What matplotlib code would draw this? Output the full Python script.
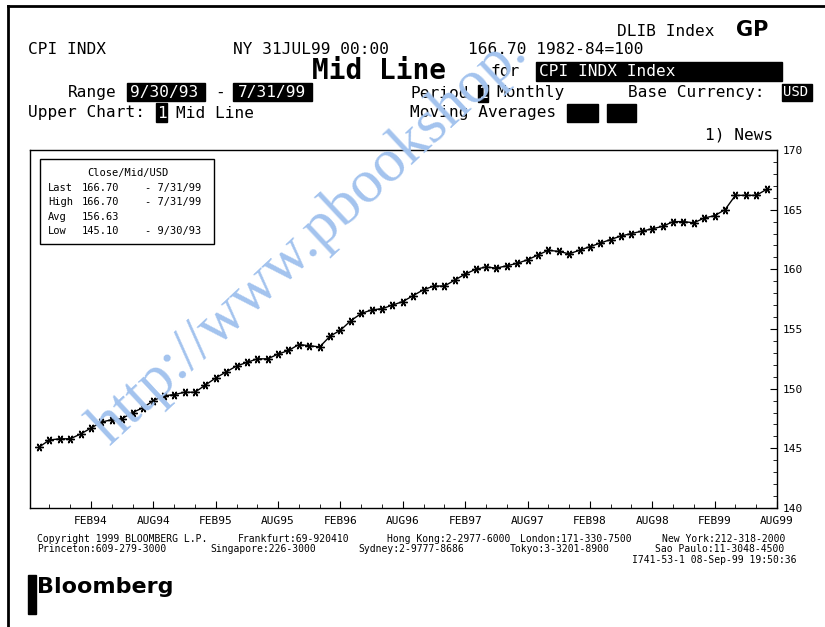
import numpy as np
import matplotlib
matplotlib.use("Agg")
import matplotlib.pyplot as plt
from matplotlib.patches import Rectangle
from matplotlib.lines import Line2D
from matplotlib.ticker import FixedLocator

# monthly CPI, Sep 93 .. Jul 99
cpi = [145.1, 145.7, 145.8, 145.8,
       146.2, 146.7, 147.2, 147.4, 147.5, 148.0, 148.4, 149.0, 149.4, 149.5, 149.7, 149.7,
       150.3, 150.9, 151.4, 151.9, 152.2, 152.5, 152.5, 152.9, 153.2, 153.7, 153.6, 153.5,
       154.4, 154.9, 155.7, 156.3, 156.6, 156.7, 157.0, 157.3, 157.8, 158.3, 158.6, 158.6,
       159.1, 159.6, 160.0, 160.2, 160.1, 160.3, 160.5, 160.8, 161.2, 161.6, 161.5, 161.3,
       161.6, 161.9, 162.2, 162.5, 162.8, 163.0, 163.2, 163.4, 163.6, 164.0, 164.0, 163.9,
       164.3, 164.5, 165.0, 166.2, 166.2, 166.2, 166.7]
x_labels = ["FEB94", "AUG94", "FEB95", "AUG95", "FEB96", "AUG96",
            "FEB97", "AUG97", "FEB98", "AUG98", "FEB99", "AUG99"]
stat_names = ["Last", "High", "Avg", "Low"]
stat_values = ["166.70", "166.70", "156.63", "145.10"]
stat_dates = ["- 7/31/99", "- 7/31/99", "", "- 9/30/93"]
y_ticks = [140, 145, 150, 155, 160, 165, 170]

W, H = 825, 627
MONO = "DejaVu Sans Mono"


def fx(x):
    return x / W


def fy(y):
    return 1 - y / H


fig = plt.figure(figsize=(W / 100, H / 100), dpi=100)


def txt(x, y, s, size=11.6, **kw):
    kw.setdefault("family", MONO)
    kw.setdefault("va", "center")
    fig.text(fx(x), fy(y), s, fontsize=size, **kw)


def box(x0, y0, x1, y1, fc="black", lw=1):
    fig.add_artist(Rectangle((fx(x0), fy(y1)), (x1 - x0) / W, (y1 - y0) / H,
                             transform=fig.transFigure, fc=fc, ec="black", lw=lw))


# page frame
fig.add_artist(Line2D([fx(8), fx(8)], [0, fy(6)], lw=2, color="black"))
fig.add_artist(Line2D([fx(8), 1], [fy(6), fy(6)], lw=2, color="black"))

# header
txt(617, 31, "DLIB Index")
txt(736, 30, "GP", size=15, family="DejaVu Sans", weight="bold")
txt(28, 50, "CPI INDX")
txt(233, 50, "NY 31JUL99 00:00")
txt(468, 50, "166.70 1982-84=100")
txt(312, 71, "Mid Line", size=20, weight="bold")
txt(490, 72, "for")
box(536, 62, 782, 81)
txt(539, 72, "CPI INDX Index", color="white")
txt(68, 92, "Range")
box(127, 83, 205, 101)
txt(130, 92, "9/30/93", color="white")
txt(215, 92, "-")
box(233, 83, 312, 101)
txt(238, 92, "7/31/99", color="white")
txt(410, 93, "Period")
box(478, 85, 488, 102)
txt(478, 93, "1", color="white")
txt(496, 93, "Monthly")
txt(628, 93, "Base Currency:")
box(782, 84, 812, 101)
txt(783, 92, "USD", color="white", size=10)
txt(28, 113, "Upper Chart:")
box(156, 103, 167, 122)
txt(157, 113, "1", color="white")
txt(176, 113, "Mid Line")
txt(410, 113, "Moving Averages")
box(567, 104, 598, 122)
box(607, 104, 636, 122)
txt(705, 135, "1) News")

# chart
ax = fig.add_axes([fx(30), fy(508), (777 - 30) / W, (508 - 150) / H])
months = np.arange(len(cpi))
ax.plot(months, cpi, color="black", lw=1, marker=(6, 2, 90), ms=6, mew=1)
ax.set_xlim(-0.87, 70.96)
ax.set_ylim(140, 170)
ax.yaxis.tick_right()
ax.set_yticks(y_ticks)
ax.set_yticklabels([str(v) for v in y_ticks], family=MONO, fontsize=8)
ax.yaxis.set_minor_locator(FixedLocator(np.arange(140, 171, 1)))
major_x = np.arange(5, 72, 6)
ax.set_xticks(major_x)
ax.set_xticklabels(x_labels, family=MONO, fontsize=8)
ax.xaxis.set_minor_locator(FixedLocator(np.arange(1, 72, 2)))
ax.tick_params(axis="both", which="both", direction="in", color="black")
ax.tick_params(axis="y", which="major", length=5, pad=4)
ax.tick_params(axis="y", which="minor", length=3)
ax.tick_params(axis="x", which="major", length=5, pad=6)
ax.tick_params(axis="x", which="minor", length=3)
for sp in ax.spines.values():
    sp.set_color("black")
    sp.set_linewidth(1)

# stats box
box(40, 159, 214, 244, fc="white")
txt(128, 173, "Close/Mid/USD", size=7.5, ha="center")
for i, (n, v, d) in enumerate(zip(stat_names, stat_values, stat_dates)):
    yy = 188 + i * 14.3
    txt(48, yy, n, size=7.5)
    txt(82, yy, v, size=7.5)
    txt(145, yy, d, size=7.5)

# footer
fs = 7
txt(37, 539, "Copyright 1999 BLOOMBERG L.P.", size=fs)
txt(238, 539, "Frankfurt:69-920410", size=fs)
txt(387, 539, "Hong Kong:2-2977-6000", size=fs)
txt(520, 539, "London:171-330-7500", size=fs)
txt(662, 539, "New York:212-318-2000", size=fs)
txt(37, 549, "Princeton:609-279-3000", size=fs)
txt(210, 549, "Singapore:226-3000", size=fs)
txt(358, 549, "Sydney:2-9777-8686", size=fs)
txt(510, 549, "Tokyo:3-3201-8900", size=fs)
txt(655, 549, "Sao Paulo:11-3048-4500", size=fs)
txt(797, 560, "I741-53-1 08-Sep-99 19:50:36", size=fs, ha="right")

# logo
box(28, 575, 36, 614)
txt(37, 587, "Bloomberg", size=16, family="DejaVu Sans", weight="bold")

# watermark
fig.text(fx(110), fy(446), "http://www.pbookshop.", rotation=43,
         rotation_mode="anchor", ha="left", va="baseline", fontsize=44,
         family="Liberation Serif", color="#a3c3ee", zorder=20)

fig.savefig("out.png", dpi=100)
